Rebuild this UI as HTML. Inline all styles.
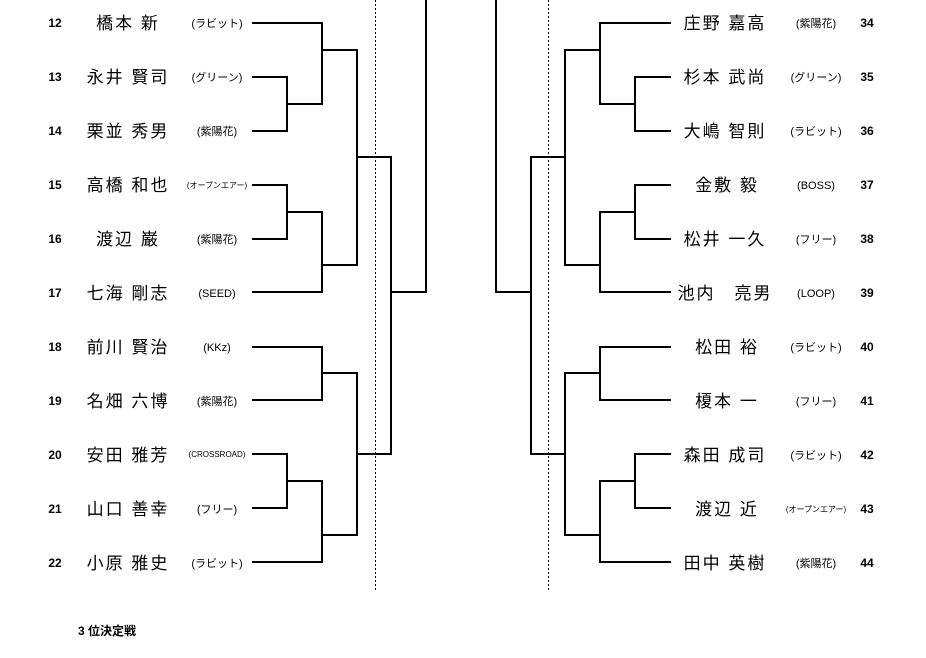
<!DOCTYPE html>
<html><head><meta charset="utf-8"><style>
html,body{margin:0;padding:0;background:#fff;width:926px;height:658px;overflow:hidden}
svg{display:block}
text{font-family:"Liberation Sans","Noto Sans CJK JP",sans-serif;fill:#000}
.n{font-size:12px;font-weight:bold}
.nm{font-size:17px;letter-spacing:2px}
.a{font-size:11px}
.as{font-size:8px}
</style></head><body>
<svg width="926" height="658" viewBox="0 0 926 658">
<g stroke="#000" stroke-width="2" fill="none">
<polyline points="252,23 322,23 322,104 287,104"/>
<polyline points="252,77 287,77 287,131 252,131"/>
<polyline points="322,50 357,50 357,265 322,265"/>
<polyline points="252,185 287,185 287,239 252,239"/>
<polyline points="287,212 322,212 322,292 252,292"/>
<polyline points="357,157 391,157 391,454 357,454"/>
<polyline points="391,292 426,292 426,0"/>
<polyline points="252,347 322,347 322,400 252,400"/>
<polyline points="322,373 357,373 357,535 322,535"/>
<polyline points="252,454 287,454 287,508 252,508"/>
<polyline points="287,481 322,481 322,562 252,562"/>
<polyline points="671,23 600,23 600,104 635,104"/>
<polyline points="671,77 635,77 635,131 671,131"/>
<polyline points="600,50 565,50 565,265 600,265"/>
<polyline points="671,185 635,185 635,239 671,239"/>
<polyline points="635,212 600,212 600,292 671,292"/>
<polyline points="565,157 531,157 531,454 565,454"/>
<polyline points="531,292 496,292 496,0"/>
<polyline points="671,347 600,347 600,400 671,400"/>
<polyline points="600,373 565,373 565,535 600,535"/>
<polyline points="671,454 635,454 635,508 671,508"/>
<polyline points="635,481 600,481 600,562 671,562"/>
</g>
<g stroke="#000" stroke-width="1" stroke-dasharray="2,2">
<line x1="375.5" y1="0" x2="375.5" y2="590"/>
<line x1="548.5" y1="0" x2="548.5" y2="590"/>
</g>
<g class="n" text-anchor="middle">
<text class="n" x="55" y="27">12</text><text class="n" x="55" y="81">13</text><text class="n" x="55" y="135">14</text>
<text class="n" x="55" y="189">15</text><text class="n" x="55" y="243">16</text><text class="n" x="55" y="297">17</text>
<text class="n" x="55" y="351">18</text><text class="n" x="55" y="405">19</text><text class="n" x="55" y="459">20</text>
<text class="n" x="55" y="513">21</text><text class="n" x="55" y="567">22</text>
<text class="n" x="867" y="27">34</text><text class="n" x="867" y="81">35</text><text class="n" x="867" y="135">36</text>
<text class="n" x="867" y="189">37</text><text class="n" x="867" y="243">38</text><text class="n" x="867" y="297">39</text>
<text class="n" x="867" y="351">40</text><text class="n" x="867" y="405">41</text><text class="n" x="867" y="459">42</text>
<text class="n" x="867" y="513">43</text><text class="n" x="867" y="567">44</text>
</g>
<g text-anchor="middle">
<text class="nm" x="128" y="29">橋本 新</text>
<text class="nm" x="128" y="83">永井 賢司</text>
<text class="nm" x="128" y="137">栗並 秀男</text>
<text class="nm" x="128" y="191">高橋 和也</text>
<text class="nm" x="128" y="245">渡辺 巌</text>
<text class="nm" x="128" y="299">七海 剛志</text>
<text class="nm" x="128" y="353">前川 賢治</text>
<text class="nm" x="128" y="407">名畑 六博</text>
<text class="nm" x="128" y="461">安田 雅芳</text>
<text class="nm" x="128" y="515">山口 善幸</text>
<text class="nm" x="128" y="569">小原 雅史</text>
<text class="a" x="217" y="27">(ラビット)</text>
<text class="a" x="217" y="81">(グリーン)</text>
<text class="a" x="217" y="135">(紫陽花)</text>
<text class="as" x="217" y="188">(オープンエアー)</text>
<text class="a" x="217" y="243">(紫陽花)</text>
<text class="a" x="217" y="297">(SEED)</text>
<text class="a" x="217" y="351">(KKz)</text>
<text class="a" x="217" y="405">(紫陽花)</text>
<text class="as" x="217" y="457">(CROSSROAD)</text>
<text class="a" x="217" y="513">(フリー)</text>
<text class="a" x="217" y="567">(ラビット)</text>

<text class="nm" x="725" y="29">庄野 嘉高</text>
<text class="nm" x="725" y="83">杉本 武尚</text>
<text class="nm" x="725" y="137">大嶋 智則</text>
<text class="nm" x="727" y="191">金敷 毅</text>
<text class="nm" x="725" y="245">松井 一久</text>
<text class="nm" x="725" y="299">池内　亮男</text>
<text class="nm" x="727" y="353">松田 裕</text>
<text class="nm" x="727" y="407">榎本 一</text>
<text class="nm" x="725" y="461">森田 成司</text>
<text class="nm" x="727" y="515">渡辺 近</text>
<text class="nm" x="725" y="569">田中 英樹</text>
<text class="a" x="816" y="27">(紫陽花)</text>
<text class="a" x="816" y="81">(グリーン)</text>
<text class="a" x="816" y="135">(ラビット)</text>
<text class="a" x="816" y="189">(BOSS)</text>
<text class="a" x="816" y="243">(フリー)</text>
<text class="a" x="816" y="297">(LOOP)</text>
<text class="a" x="816" y="351">(ラビット)</text>
<text class="a" x="816" y="405">(フリー)</text>
<text class="a" x="816" y="459">(ラビット)</text>
<text class="as" x="816" y="512">(オープンエアー)</text>
<text class="a" x="816" y="567">(紫陽花)</text>
</g>
<text class="n" x="78" y="635">3 位決定戦</text>
</svg>
</body></html>
